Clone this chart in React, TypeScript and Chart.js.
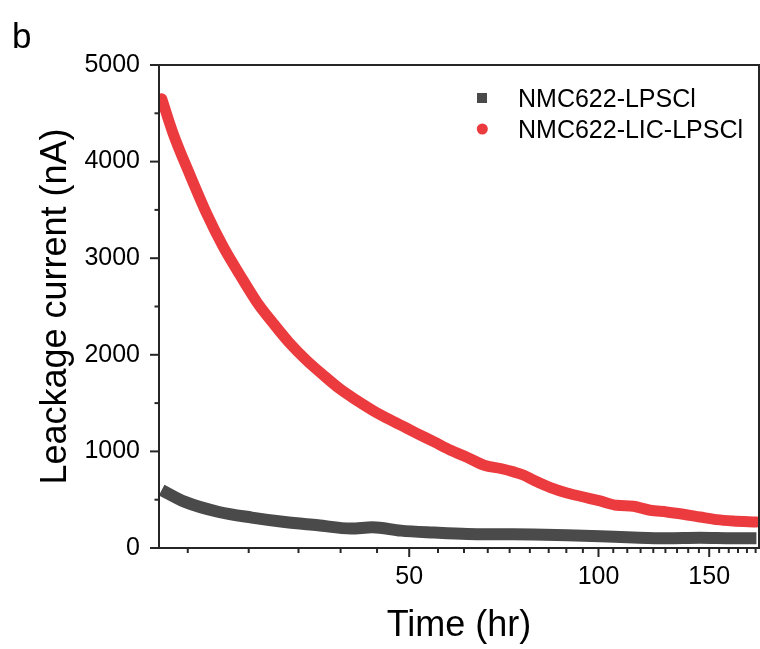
import React, { useEffect, useRef } from "react";
import { Chart, registerables } from "chart.js";

Chart.register(...registerables);

// ---- data ----
const seriesLabels = ["NMC622-LPSCl", "NMC622-LIC-LPSCl"];

const timeGray = [20.2, 22.0, 24.9, 28.1, 31.7, 35.8, 40.4, 43.7, 48.5, 54.8, 61.9, 69.9, 78.9, 89.1, 100.6, 113.6, 128.4, 145, 163.7, 178.3];
const currentGray = [600, 477, 373, 315, 269, 235, 201, 215, 180, 160, 145, 142, 140, 132, 121, 108, 100, 105, 100, 100];

const timeRed = [20.2, 21.1, 22.4, 23.8, 25.3, 26.9, 28.6, 30.4, 32.3, 34.3, 36.5, 38.7, 41.2, 43.7, 46.5, 49.4, 51.5, 54.8, 58.2, 61.9, 65.8, 69.9, 73.3, 76.1, 78.9, 83.9, 89.1, 94.7, 100.6, 107, 113.6, 120.8, 128.4, 136.4, 145, 154.1, 163.7, 178.3];
const currentRed = [4650, 4277, 3862, 3465, 3119, 2826, 2549, 2325, 2118, 1945, 1790, 1652, 1531, 1427, 1331, 1245, 1185, 1098, 1012, 937, 857, 823, 788, 753, 702, 626, 570, 528, 487, 442, 432, 391, 373, 349, 321, 294, 280, 270];

const xMajorTicks = [50, 100, 150];
const xMinorPerInterval = 8;
const xRange = [20, 180];
const yMajorTicks = [0, 1000, 2000, 3000, 4000, 5000];
const yMinorStep = 500;

const xTitle = "Time (hr)";
const yTitle = "Leackage current (nA)";
const panelLabel = "b";

const GRAY = "#4a4a4a";
const RED = "#ec3b3e";
const AXIS = "#262626";
const FONT = "'Liberation Sans', Arial, Helvetica, sans-serif";

const framePlugin = {
  id: "frame",
  afterDraw(chart: any) {
    const { ctx, chartArea: a, scales } = chart;
    const xs = scales.x, ys = scales.y;
    ctx.save();
    ctx.strokeStyle = AXIS;
    ctx.lineWidth = 2;
    ctx.lineCap = "butt";
    ctx.beginPath();
    ctx.rect(a.left, a.top, a.right - a.left, a.bottom - a.top);
    ctx.stroke();

    const tick = (x1: number, y1: number, x2: number, y2: number) => {
      ctx.beginPath();
      ctx.moveTo(x1, y1);
      ctx.lineTo(x2, y2);
      ctx.stroke();
    };
    // y ticks
    for (let v = yMajorTicks[0]; v <= yMajorTicks[yMajorTicks.length - 1]; v += yMinorStep) {
      const py = ys.getPixelForValue(v);
      const major = yMajorTicks.includes(v);
      tick(a.left - (major ? 9 : 4.5), py, a.left, py);
    }
    // x ticks
    const step = (xMajorTicks[1] - xMajorTicks[0]) / (xMinorPerInterval + 1);
    let start = xMajorTicks[0];
    while (start - step >= xRange[0] - 1e-6) start -= step;
    for (let v = start; v <= xRange[1] + 1e-6; v += step) {
      const px = xs.getPixelForValue(v);
      const major = xMajorTicks.some((m) => Math.abs(m - v) < 1e-6);
      tick(px, a.bottom, px, a.bottom + (major ? 9 : 5));
    }

    // legend
    ctx.font = `25px ${FONT}`;
    ctx.textBaseline = "alphabetic";
    ctx.textAlign = "left";
    ctx.fillStyle = "#000";
    const ds = chart.data.datasets;
    ctx.fillStyle = ds[0].borderColor;
    ctx.fillRect(477, 93, 10, 10);
    ctx.beginPath();
    ctx.arc(482.3, 129, 5.5, 0, Math.PI * 2);
    ctx.fillStyle = ds[1].borderColor;
    ctx.fill();
    ctx.fillStyle = "#000";
    ctx.fillText(ds[0].label, 518, 107);
    ctx.fillText(ds[1].label, 518, 137.5);

    // panel label
    ctx.font = `35px ${FONT}`;
    ctx.fillText(panelLabel, 12, 48);
    ctx.restore();
  },
};

export default function App() {
  const ref = useRef<HTMLCanvasElement>(null);
  useEffect(() => {
    document.body.style.margin = "0";
    const chart = new Chart(ref.current as HTMLCanvasElement, {
      type: "line",
      data: {
        datasets: [
          {
            label: seriesLabels[0],
            data: timeGray.map((t, i) => ({ x: t, y: currentGray[i] })),
            borderColor: GRAY,
            backgroundColor: GRAY,
            borderWidth: 12,
            pointRadius: 0,
            cubicInterpolationMode: "monotone",
            borderCapStyle: "butt",
            borderJoinStyle: "round",
          },
          {
            label: seriesLabels[1],
            data: timeRed.map((t, i) => ({ x: t, y: currentRed[i] })),
            borderColor: RED,
            backgroundColor: RED,
            borderWidth: 11,
            pointRadius: 0,
            cubicInterpolationMode: "monotone",
            borderCapStyle: "round",
            borderJoinStyle: "round",
          },
        ],
      },
      options: {
        animation: false,
        responsive: false,
        layout: { padding: { top: 65, right: 1, left: 0, bottom: 0 } },
        plugins: { legend: { display: false }, tooltip: { enabled: false } },
        scales: {
          x: {
            type: "logarithmic",
            min: xRange[0],
            max: xRange[1],
            afterBuildTicks: (s: any) => {
              s.ticks = xMajorTicks.map((v) => ({ value: v }));
            },
            afterFit: (s: any) => {
              s.height = 101;
              s.paddingLeft = 0;
              s.paddingRight = 0;
            },
            grid: { display: false, drawTicks: false },
            border: { display: false },
            ticks: {
              callback: (v: any) => String(v),
              font: { family: FONT, size: 25 },
              color: "#000",
              padding: 14,
              maxRotation: 0,
              autoSkip: false,
            },
            title: {
              display: true,
              text: xTitle,
              font: { family: FONT, size: 36 },
              color: "#000",
              padding: { top: 0, bottom: 1 },
            },
          },
          y: {
            type: "linear",
            min: 0,
            max: 5000,
            afterBuildTicks: (s: any) => {
              s.ticks = yMajorTicks.map((v) => ({ value: v }));
            },
            afterFit: (s: any) => {
              s.width = 159;
            },
            grid: { display: false, drawTicks: false },
            border: { display: false },
            ticks: {
              callback: (v: any) => String(v),
              font: { family: FONT, size: 25 },
              color: "#000",
              padding: 19,
            },
            title: {
              display: true,
              text: yTitle,
              font: { family: FONT, size: 36 },
              color: "#000",
              padding: { top: 34, bottom: 0 },
            },
          },
        },
      } as any,
      plugins: [framePlugin],
    });
    return () => chart.destroy();
  }, []);
  return (
    <div style={{ width: 760, height: 649 }}>
      <canvas ref={ref} width={760} height={649} style={{ display: "block", width: 760, height: 649 }} />
    </div>
  );
}
